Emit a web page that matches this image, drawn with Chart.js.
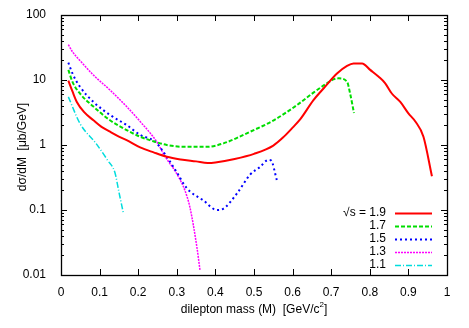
<!DOCTYPE html>
<html><head><meta charset="utf-8">
<script src="https://cdn.jsdelivr.net/npm/chart.js@4/dist/chart.umd.min.js"></script>
<style>html,body{margin:0;padding:0;background:#fff}</style>
</head><body>
<canvas id="c" width="469" height="328"></canvas>
<script>
const seriesLabels = ['\u221As = 1.9', '1.7', '1.5', '1.3', '1.1'];

const m19 = [0.019,0.03,0.041,0.06,0.084,0.105,0.127,0.15,0.17,0.205,0.24,0.274,0.31,0.35,0.38,0.4,0.45,0.5,0.55,0.575,0.6,0.62,0.654,0.68,0.715,0.741,0.758,0.78,0.801,0.823,0.84,0.857,0.879,0.9,0.918,0.939,0.961];
const v19 = [9.8,6.6,4.6,3.2,2.4,1.9,1.6,1.35,1.19,0.92,0.77,0.66,0.6,0.56,0.53,0.54,0.61,0.73,0.98,1.3,1.85,2.5,4.9,7.4,12.6,16.5,18,18,14.3,11.2,8.9,6.2,4.6,3.07,2.3,1.34,0.33];

const m17 = [0.019,0.03,0.049,0.084,0.127,0.17,0.205,0.244,0.274,0.317,0.378,0.421,0.49,0.551,0.611,0.654,0.689,0.706,0.719,0.741,0.749,0.759];
const v17 = [14.3,9.3,6.2,3.9,2.4,1.7,1.34,1.12,1.0,0.94,0.94,1.06,1.6,2.4,4.1,6.4,8.9,10.2,10.6,9.4,6.2,3.1];

const m15 = [0.019,0.03,0.049,0.084,0.127,0.17,0.205,0.244,0.274,0.3,0.326,0.369,0.404,0.421,0.456,0.49,0.516,0.537,0.544,0.559];
const v15 = [18.5,12.5,7.9,4.6,2.9,2.03,1.43,1.12,0.66,0.38,0.216,0.14,0.1,0.105,0.18,0.35,0.46,0.59,0.58,0.29];

const m13 = [0.019,0.03,0.049,0.084,0.127,0.17,0.205,0.248,0.27,0.3,0.321,0.334,0.352,0.36];
const v13 = [35,27,20,11.9,7.0,3.9,2.3,1.12,0.66,0.36,0.2,0.11,0.027,0.012];

const m11 = [0.019,0.05,0.09,0.12,0.14,0.15,0.161];
const v11 = [5.5,2.1,1.07,0.59,0.37,0.19,0.093];

const xTicks = [0,0.1,0.2,0.3,0.4,0.5,0.6,0.7,0.8,0.9,1];
const yTicks = [0.01,0.1,1,10,100];
const xTitle = 'dilepton mass (M)  [GeV/c';
const yTitle = 'd\u03C3/dM  [\u03BCb/GeV]';

const FONT = '"Liberation Sans", Arial, Helvetica, sans-serif';
const pts = (m, v) => m.map((x, i) => ({x: x, y: v[i]}));

const styles = [
  {color:'#ff0000', dash:[], width:2},
  {color:'#00dd00', dash:[4,2], width:2},
  {color:'#0000ff', dash:[2,3], width:2},
  {color:'#ff00ff', dash:[2,1], width:1.5},
  {color:'#00dddd', dash:[6,2,1,2], width:1.5}
];
const series = [pts(m19,v19), pts(m17,v17), pts(m15,v15), pts(m13,v13), pts(m11,v11)];

const datasets = series.map((d, i) => ({
  label: seriesLabels[i], data: d,
  borderColor: styles[i].color, borderDash: styles[i].dash, borderWidth: styles[i].width,
  pointRadius: 0, fill: false, cubicInterpolationMode: 'monotone'
}));

const decor = {
  id: 'decor',
  afterDraw(chart) {
    const ctx = chart.ctx, a = chart.chartArea;
    const xs = chart.scales.x, ys = chart.scales.y;
    ctx.save();
    ctx.strokeStyle = '#000'; ctx.lineWidth = 1; ctx.setLineDash([]);
    ctx.beginPath();
    xTicks.forEach(t => {
      const px = Math.round(xs.getPixelForValue(t)) + 0.5;
      ctx.moveTo(px, a.bottom); ctx.lineTo(px, a.bottom - 6);
      ctx.moveTo(px, a.top); ctx.lineTo(px, a.top + 6);
    });
    for (let e = -2; e <= 2; e++) {
      for (let k = 1; k <= 9; k++) {
        const val = k * Math.pow(10, e);
        if (val > 100.0001) break;
        const py = Math.round(ys.getPixelForValue(val)) + 0.5;
        const len = k === 1 ? 6 : 3;
        ctx.moveTo(a.left, py); ctx.lineTo(a.left + len, py);
        ctx.moveTo(a.right, py); ctx.lineTo(a.right - len, py);
      }
    }
    ctx.stroke();
    ctx.lineWidth = 1.3;
    ctx.strokeRect(Math.round(a.left) + 0.5, Math.round(a.top) + 0.5, Math.round(a.right - a.left), Math.round(a.bottom - a.top));

    ctx.fillStyle = '#000';
    ctx.font = '12px ' + FONT;
    ctx.textBaseline = 'middle';
    ctx.textAlign = 'left';
    const w1 = ctx.measureText(xTitle).width;
    ctx.font = '8px ' + FONT;
    const w2 = ctx.measureText('2').width;
    ctx.font = '12px ' + FONT;
    const w3 = ctx.measureText(']').width;
    const total = w1 + w2 + w3;
    const sx = 254 - total / 2;
    const ty = 310;
    ctx.fillText(xTitle, sx, ty);
    ctx.font = '8px ' + FONT;
    ctx.fillText('2', sx + w1, ty - 5);
    ctx.font = '12px ' + FONT;
    ctx.fillText(']', sx + w1 + w2, ty);

    ctx.save();
    ctx.translate(23, 147);
    ctx.rotate(-Math.PI / 2);
    ctx.textAlign = 'center';
    ctx.fillText(yTitle, 0, 0);
    ctx.restore();

    chart.data.datasets.forEach((ds, i) => {
      const y = 213 + i * 13;
      ctx.textAlign = 'right';
      ctx.fillStyle = '#000';
      ctx.font = '12px ' + FONT;
      ctx.fillText(ds.label, 386, y);
      ctx.strokeStyle = ds.borderColor;
      ctx.lineWidth = ds.borderWidth;
      ctx.setLineDash(ds.borderDash);
      ctx.beginPath();
      ctx.moveTo(395, Math.round(y) + 0.5); ctx.lineTo(432, Math.round(y) + 0.5);
      ctx.stroke();
    });
    ctx.restore();
  }
};

new Chart(document.getElementById('c'), {
  type: 'line',
  data: { datasets: datasets },
  options: {
    responsive: false, animation: false, devicePixelRatio: 1,
    layout: { padding: { top: 15, right: 22, left: 0, bottom: 0 } },
    plugins: { legend: { display: false }, tooltip: { enabled: false } },
    scales: {
      x: {
        type: 'linear', min: 0, max: 1,
        afterBuildTicks: s => { s.ticks = xTicks.map(v => ({value: v})); },
        afterFit: s => { s.height = 53; },
        grid: { display: false }, border: { display: false },
        ticks: { color: '#000', font: { family: FONT, size: 12 }, padding: 2, maxRotation: 0,
          callback: v => String(Math.round(v * 10) / 10) }
      },
      y: {
        type: 'logarithmic', min: 0.01, max: 100,
        afterBuildTicks: s => { s.ticks = yTicks.map(v => ({value: v, major: true})); },
        afterFit: s => { s.width = 61; },
        grid: { display: false }, border: { display: false },
        ticks: { color: '#000', font: { family: FONT, size: 12 }, padding: 7,
          callback: v => String(v) }
      }
    }
  },
  plugins: [decor]
});
</script>
</body></html>
